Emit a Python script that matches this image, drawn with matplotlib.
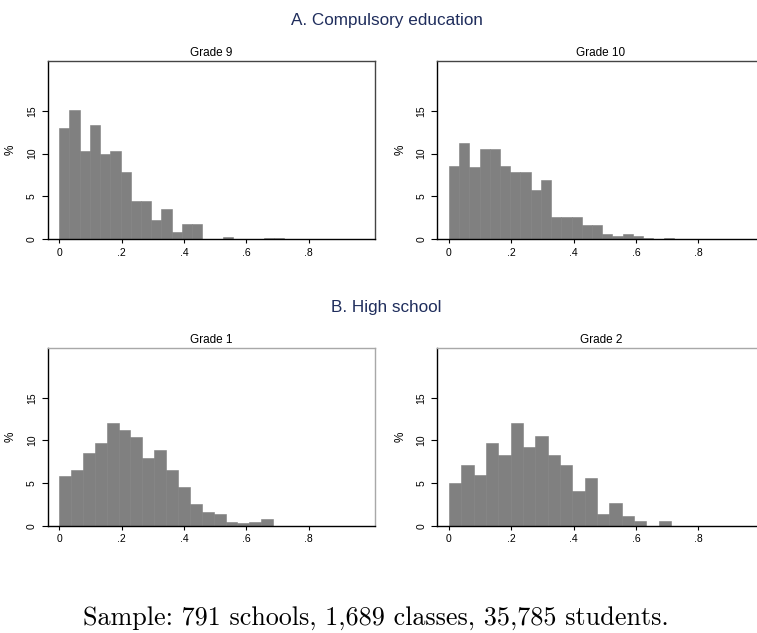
import matplotlib
matplotlib.use("Agg")
import matplotlib.pyplot as plt
import numpy as np

# ---------------- data (percent of classes per bin) ----------------
grade9_pct = [13.0, 15.1, 10.3, 13.4, 10.0, 10.3, 7.8, 4.5, 4.5, 2.3,
              3.5, 0.9, 1.75, 1.75, 0.0, 0.0, 0.25, 0.0, 0.0, 0.0,
              0.2, 0.2, 0.0, 0.0, 0.0, 0.0, 0.0, 0.0, 0.0, 0.0]
grade9_binw = 0.0328

grade10_pct = [8.6, 11.3, 8.4, 10.5, 10.6, 8.6, 7.8, 7.8, 5.8, 6.9,
               2.6, 2.6, 2.6, 1.7, 1.7, 0.6, 0.4, 0.6, 0.4, 0.2,
               0.05, 0.2, 0.0, 0.0, 0.0, 0.0, 0.0, 0.0, 0.0, 0.0]
grade10_binw = 0.0328

grade1_pct = [5.8, 6.6, 8.55, 9.7, 12.0, 11.2, 10.35, 8.0, 8.9, 6.6,
              4.6, 2.6, 1.65, 1.45, 0.5, 0.3, 0.5, 0.8]
grade1_binw = 0.0381

grade2_pct = [5.0, 7.15, 6.0, 9.65, 8.35, 12.0, 9.25, 10.5, 8.35, 7.15,
              4.15, 5.65, 1.45, 2.7, 1.2, 0.6, 0.0, 0.6]
grade2_binw = 0.0396

panel_titles = ["Grade 9", "Grade 10", "Grade 1", "Grade 2"]
section_titles = ["A. Compulsory education", "B. High school"]
x_ticks = [0, 0.2, 0.4, 0.6, 0.8]
x_ticklabels = ["0", ".2", ".4", ".6", ".8"]
y_ticks = [0, 5, 10, 15]
y_ticklabels = ["0", "5", "10", "15"]
footer = "Sample: 791 schools, 1,689 classes, 35,785 students."

# ---------------- figure ----------------
W, H = 757, 633
fig = plt.figure(figsize=(W / 100, H / 100), dpi=100)
fig.patch.set_facecolor("white")

sans = ["Liberation Sans", "DejaVu Sans"]
navy = "#1f2d5c"
bar_gray = "#808080"


def px_rect(left, top, right, bottom):
    return [left / W, 1 - bottom / H, (right - left) / W, (bottom - top) / H]


rects = [
    px_rect(47.7, 60.7, 375.0, 239.3),
    px_rect(437.3, 60.7, 764.6, 239.3),
    px_rect(47.7, 347.7, 375.0, 526.0),
    px_rect(437.3, 347.7, 764.6, 526.0),
]
data = [(grade9_pct, grade9_binw), (grade10_pct, grade10_binw),
        (grade1_pct, grade1_binw), (grade2_pct, grade2_binw)]
frame_colors = ["#444444", "#444444", "#a8a8a8", "#a8a8a8"]

for i, (rect, (pct, bw), title) in enumerate(zip(rects, data, panel_titles)):
    ax = fig.add_axes(rect)
    pct = np.asarray(pct)
    edges = np.arange(len(pct)) * bw
    ax.bar(edges, pct, width=bw, align="edge", color=bar_gray,
           edgecolor=bar_gray, linewidth=0.4)
    ax.set_xlim(-0.037, 1.013)
    ax.set_ylim(0, 20.85)
    ax.set_xticks(x_ticks)
    ax.set_xticklabels(x_ticklabels, family=sans, fontsize=7.5)
    ax.set_yticks(y_ticks)
    ax.set_yticklabels(y_ticklabels, family=sans, fontsize=7.5, rotation=90,
                       va="center")
    ax.tick_params(axis="x", length=3, width=0.8, pad=3.0, color="black")
    ax.tick_params(axis="y", length=4, width=0.8, pad=3.8, color="black")
    for s in ("left", "bottom"):
        ax.spines[s].set_color("black")
        ax.spines[s].set_linewidth(1.0)
    for s in ("top", "right"):
        ax.spines[s].set_color(frame_colors[i])
        ax.spines[s].set_linewidth(1.0)
    ax.set_ylabel("%", family=sans, fontsize=8.5)
    ax.yaxis.set_label_coords(-0.094, 0.5)
    ax.set_title(title, family=sans, fontsize=8.5, pad=3.5)

fig.text(386.5 / W, 1 - 25 / H, section_titles[0], ha="center",
         va="baseline", family=sans, fontsize=12.3, color=navy)
fig.text(386.5 / W, 1 - 311.7 / H, section_titles[1], ha="center",
         va="baseline", family=sans, fontsize=12.3, color=navy)

fig.text(376 / W, 1 - 625 / H, footer, ha="center", va="baseline",
         family=["cmr10", "DejaVu Serif"], fontsize=18.8, color="black")

fig.savefig("out.png", dpi=100, facecolor="white")
